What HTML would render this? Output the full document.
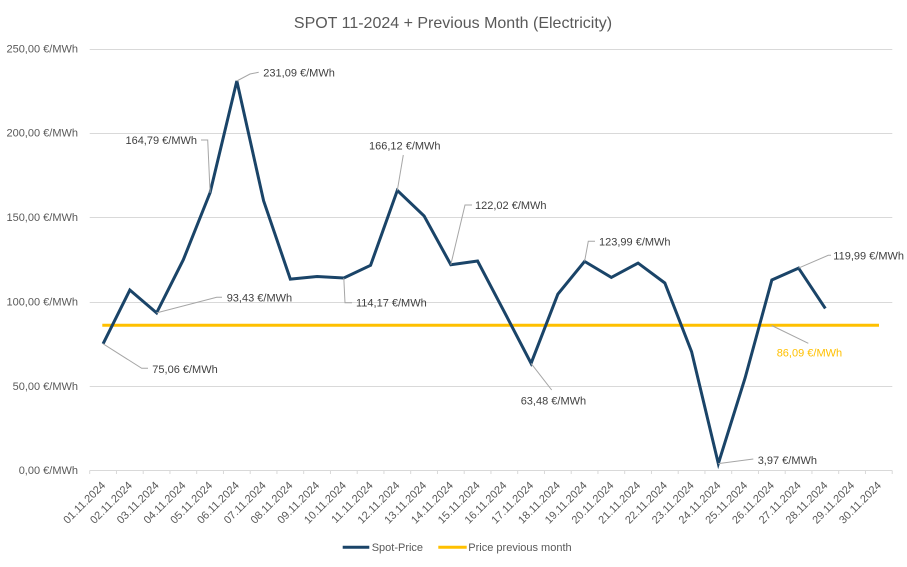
<!DOCTYPE html>
<html><head><meta charset="utf-8"><style>
html,body{margin:0;padding:0;background:#fff;}
svg{display:block;font-family:"Liberation Sans",sans-serif;}
</style></head><body>
<svg width="907" height="567" viewBox="0 0 907 567" xmlns="http://www.w3.org/2000/svg">
<rect width="907" height="567" fill="#fff"/>
<text x="453" y="28" text-anchor="middle" font-size="16" fill="#595959">SPOT 11-2024 + Previous Month (Electricity)</text>
<g stroke="#D9D9D9" stroke-width="1">
<line x1="89.7" x2="892.3" y1="49.5" y2="49.5"/>
<line x1="89.7" x2="892.3" y1="133.5" y2="133.5"/>
<line x1="89.7" x2="892.3" y1="217.5" y2="217.5"/>
<line x1="89.7" x2="892.3" y1="302.5" y2="302.5"/>
<line x1="89.7" x2="892.3" y1="386.5" y2="386.5"/>
<line x1="89.7" x2="892.3" y1="470.5" y2="470.5"/>
</g>
<g stroke="#D9D9D9" stroke-width="1" id="ticks"></g>
<g font-size="11" fill="#595959" text-anchor="end">
<text x="78" y="52.5">250,00 €/MWh</text>
<text x="78" y="136.5">200,00 €/MWh</text>
<text x="78" y="221">150,00 €/MWh</text>
<text x="78" y="305.5">100,00 €/MWh</text>
<text x="78" y="390">50,00 €/MWh</text>
<text x="78" y="474">0,00 €/MWh</text>
</g>
<g id="xl" font-size="11" fill="#595959" text-anchor="end"></g>
<polyline fill="none" stroke="#FFC000" stroke-width="3" points="102.3,325.3 879,325.3"/>
<polyline fill="none" stroke="#1A4468" stroke-width="3" stroke-linejoin="miter" points="103.08,343.84 129.83,290.03 156.58,312.89 183.33,259.7 210.08,192.66 236.83,80.96 263.58,200.7 290.33,279.1 317.08,276.5 343.83,277.95 370.58,265.3 397.33,190.42 424.08,215.9 450.83,264.72 477.58,261.05 504.33,311.9 531.08,363.35 557.83,294.2 584.58,261.4 611.33,277.4 638.08,263.1 664.83,283 691.58,351.7 718.33,463.6 745.08,378 771.83,280 798.58,268.1 825.33,308.4"/>
<g fill="none" stroke="#A6A6A6" stroke-width="1">
<polyline points="236.8,81 250,74 258.7,72.3"/>
<polyline points="210.1,192.7 207.7,140 201,140"/>
<polyline points="397.3,190.4 403.3,155"/>
<polyline points="450.8,264.7 465,205 472,205"/>
<polyline points="584.6,261.4 588.3,241.3 595,241.3"/>
<polyline points="798.6,268.1 828.3,255.3 831,255.3"/>
<polyline points="771.7,325.5 808.3,343.3"/>
<polyline points="156.6,312.9 216.7,297.3 222,297.3"/>
<polyline points="103.1,343.8 141.7,368.3 148,368.3"/>
<polyline points="343.8,278 345,302.7 352,302.7"/>
<polyline points="531.1,363.4 551.7,390"/>
<polyline points="718.3,463.6 753.3,459"/>
</g>
<g font-size="11" fill="#404040">
<text x="263.3" y="76.3">231,09 €/MWh</text>
<text x="197" y="144" text-anchor="end">164,79 €/MWh</text>
<text x="369" y="149.3">166,12 €/MWh</text>
<text x="475" y="209">122,02 €/MWh</text>
<text x="599" y="245.3">123,99 €/MWh</text>
<text x="833.3" y="259.3">119,99 €/MWh</text>
<text x="226.7" y="301.3">93,43 €/MWh</text>
<text x="152.3" y="373">75,06 €/MWh</text>
<text x="356" y="306.7">114,17 €/MWh</text>
<text x="520.7" y="404.7">63,48 €/MWh</text>
<text x="757.7" y="464">3,97 €/MWh</text>
<text x="776.7" y="356.3" fill="#FFC000">86,09 €/MWh</text>
</g>
<line x1="342.7" x2="369.3" y1="547.3" y2="547.3" stroke="#1A4468" stroke-width="3"/>
<text x="371.7" y="551" font-size="11" fill="#595959">Spot-Price</text>
<line x1="438.3" x2="466.7" y1="547.3" y2="547.3" stroke="#FFC000" stroke-width="3"/>
<text x="468.3" y="551" font-size="11" fill="#595959">Price previous month</text>
<script>
(function(){
var ns="http://www.w3.org/2000/svg";
var t=document.getElementById("ticks"),xl=document.getElementById("xl");
for(var i=0;i<=30;i++){
var x=89.7+26.75*i;
var l=document.createElementNS(ns,"line");
l.setAttribute("x1",x);l.setAttribute("x2",x);l.setAttribute("y1",470.5);l.setAttribute("y2",474);
t.appendChild(l);
}
for(var i=0;i<30;i++){
var cx=89.7+26.75*(i+0.5)+3;var cy=486;
var tx=document.createElementNS(ns,"text");
tx.setAttribute("x",cx);tx.setAttribute("y",cy);
tx.setAttribute("transform","rotate(-45 "+cx+" "+cy+")");
var d=(i+1<10?"0":"")+(i+1);
tx.textContent=d+".11.2024";
xl.appendChild(tx);
}
})();
</script>
</svg>
</body></html>
